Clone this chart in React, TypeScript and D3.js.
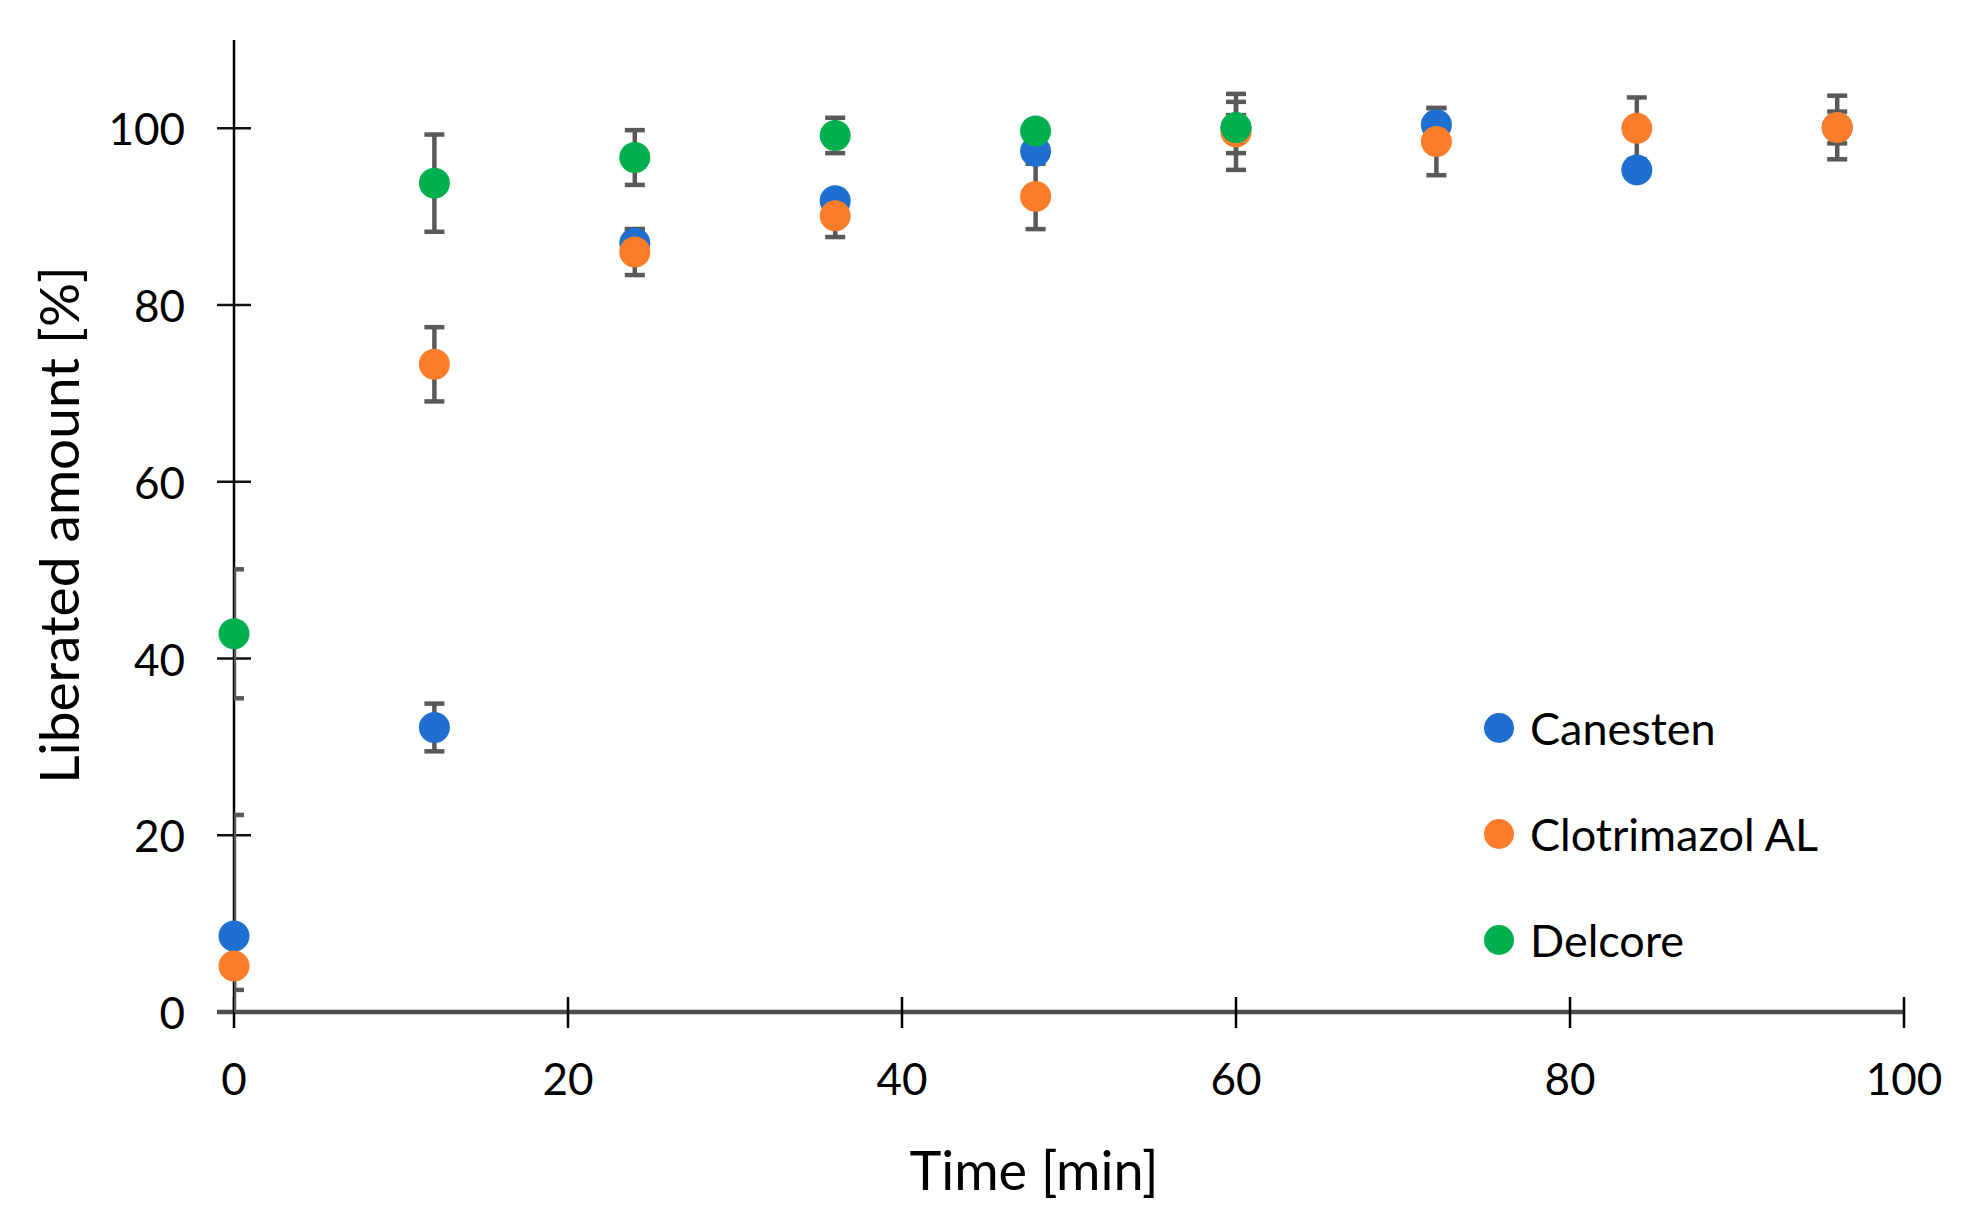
import * as d3 from 'd3'

const times = [0, 12, 24, 36, 48, 60, 72, 84, 96]
const canesten = [8.6, 32.2, 87.0, 91.8, 97.4, 100.0, 100.4, 95.3, 100.1]
const canestenErr = [13.7, 2.7, 1.6, 1.0, 1.0, 1.5, 1.9, 0.5, 1.8]
const clotrimazol = [5.2, 73.3, 86.0, 90.1, 92.3, 99.6, 98.5, 100.0, 100.1]
const clotrimazolErr = [2.7, 4.2, 2.6, 2.4, 3.7, 4.3, 3.8, 3.5, 3.6]
const delcoreTimes = [0, 12, 24, 36, 48, 60]
const delcore = [42.8, 93.8, 96.7, 99.2, 99.7, 100.1]
const delcoreErr = [7.3, 5.5, 3.1, 2.0, 0.8, 2.9]

const xTicks = [0, 20, 40, 60, 80, 100]
const yTicks = [0, 20, 40, 60, 80, 100]

const seriesNames = ['Canesten', 'Clotrimazol AL', 'Delcore']
const seriesColors = ['#1f6fd0', '#fb7d2a', '#00b04f']

const width = 1964
const height = 1226
const margin = { left: 234, right: 60, top: 40, bottom: 214 }
const font = 'Lato, "Open Sans", sans-serif'
const errColor = '#595959'

export default function App() {
  const x = d3.scaleLinear().domain([0, 100]).range([margin.left, width - margin.right])
  const y = d3.scaleLinear().domain([0, 110]).range([height - margin.bottom, margin.top])

  const series = [
    { name: seriesNames[0], color: seriesColors[0], t: times, v: canesten, e: canestenErr },
    { name: seriesNames[1], color: seriesColors[1], t: times, v: clotrimazol, e: clotrimazolErr },
    { name: seriesNames[2], color: seriesColors[2], t: delcoreTimes, v: delcore, e: delcoreErr },
  ]

  const x0 = x(0)
  const y0 = y(0)
  const cap = 10
  const r = 15.5

  return (
    <svg
      width={width}
      height={height}
      style={{ position: 'absolute', left: 0, top: 0, background: '#fff' }}
      fontFamily={font}
    >
      <defs>
        <clipPath id="plot-clip">
          <rect x={x0} y={y(110)} width={x(100) - x0} height={y0 - y(110)} />
        </clipPath>
      </defs>

      {/* y axis */}
      <line x1={x0} x2={x0} y1={y(110)} y2={y0} stroke="#000" strokeWidth={2.5} />
      {yTicks.map((t) => (
        <g key={`y${t}`}>
          <line x1={x0 - 17} x2={x0 + 17} y1={y(t)} y2={y(t)} stroke="#111" strokeWidth={2.5} />
          <text x={185} y={y(t)} textAnchor="end" dominantBaseline="central" fontSize={44} fill="#000">
            {t}
          </text>
        </g>
      ))}

      {/* x axis */}
      <line x1={x0 - 17} x2={x(100)} y1={y0} y2={y0} stroke="#4d4d4d" strokeWidth={4.5} />
      {xTicks.map((t) => (
        <g key={`x${t}`}>
          <line x1={x(t)} x2={x(t)} y1={y0 - 15} y2={y0 + 16} stroke="#000" strokeWidth={2.5} />
          <text x={x(t)} y={1095} textAnchor="middle" fontSize={44} fill="#000">
            {t}
          </text>
        </g>
      ))}

      <text x={1034} y={1190} textAnchor="middle" fontSize={54} fill="#000">
        Time [min]
      </text>
      <text
        transform={`translate(58, ${(263 + 787) / 2}) rotate(-90)`}
        textAnchor="middle"
        dominantBaseline="central"
        fontSize={55}
        fill="#000"
      >
        Liberated amount [%]
      </text>

      {/* error bars */}
      <g clipPath="url(#plot-clip)" stroke={errColor} strokeWidth={4.5}>
        {series.map((s) =>
          s.t.map((t, i) => {
            const cx = x(t)
            const top = y(s.v[i] + s.e[i])
            const bot = y(s.v[i] - s.e[i])
            return (
              <g key={`${s.name}-e-${t}`}>
                <line x1={cx} x2={cx} y1={top} y2={bot} />
                <line x1={cx - cap} x2={cx + cap} y1={top} y2={top} />
                <line x1={cx - cap} x2={cx + cap} y1={bot} y2={bot} />
              </g>
            )
          }),
        )}
      </g>

      {/* markers */}
      {series.map((s) => (
        <g key={`${s.name}-m`} fill={s.color}>
          {s.t.map((t, i) => (
            <circle key={t} cx={x(t)} cy={y(s.v[i])} r={r} />
          ))}
        </g>
      ))}

      {/* legend */}
      {series.map((s, i) => (
        <g key={`${s.name}-l`} transform={`translate(1499, ${728 + i * 106})`}>
          <circle r={15} fill={s.color} />
          <text x={31} y={0} dominantBaseline="central" fontSize={45} fill="#000">
            {s.name}
          </text>
        </g>
      ))}
    </svg>
  )
}
